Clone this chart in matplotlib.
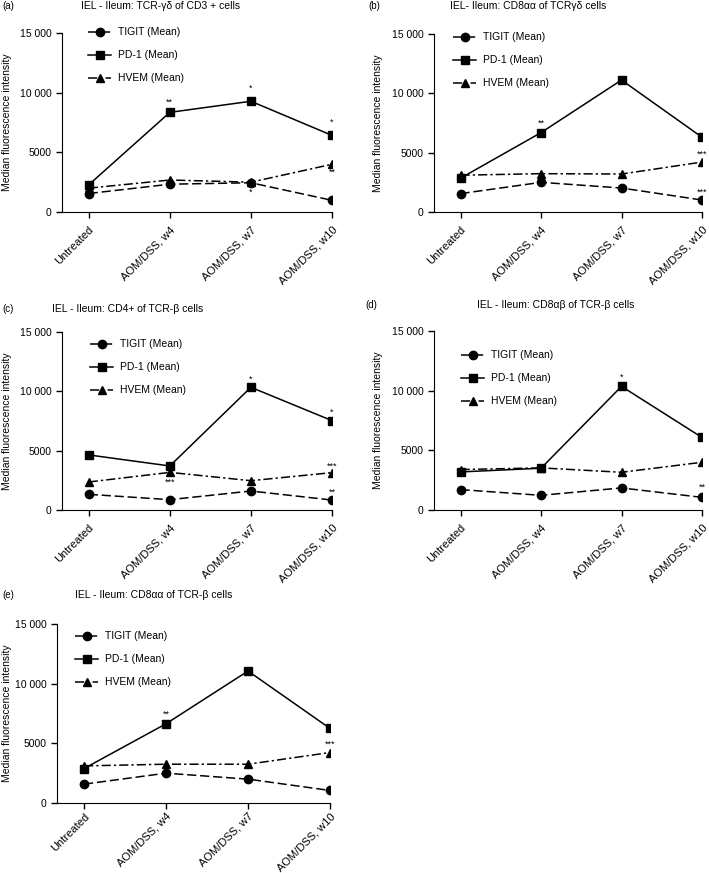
import numpy as np
import matplotlib
matplotlib.use('Agg')
import matplotlib.pyplot as plt

plt.rcParams['font.family'] = ['Liberation Sans', 'DejaVu Sans']

categories = ['Untreated', 'AOM/DSS, w4', 'AOM/DSS, w7', 'AOM/DSS, w10']
series_names = ['TIGIT (Mean)', 'PD-1 (Mean)', 'HVEM (Mean)']

# panel (a)
tigit_a = [1550, 2330, 2450, 980]
pd1_a = [2280, 8350, 9280, 6420]
hvem_a = [2000, 2680, 2500, 4000]
stars_a = [(1, 9240, '**'), (2, 10390, '*'), (3, 7500, '*'), (3, 3300, '**'), (2, 1620, '*')]
# panel (b)
tigit_b = [1550, 2500, 2020, 1010]
pd1_b = [2850, 6690, 11120, 6300]
hvem_b = [3100, 3230, 3200, 4210]
stars_b = [(1, 7480, '**'), (3, 4890, '***'), (3, 1630, '***')]
# panel (c)
tigit_c = [1320, 870, 1600, 840]
pd1_c = [4640, 3710, 10340, 7530]
hvem_c = [2360, 3170, 2470, 3150]
stars_c = [(2, 11000, '*'), (3, 8260, '*'), (1, 2300, '***'), (3, 3710, '***'), (3, 1460, '**')]
# panel (d)
tigit_d = [1710, 1230, 1850, 1060]
pd1_d = [3190, 3500, 10360, 6080]
hvem_d = [3390, 3530, 3160, 4000]
stars_d = [(2, 11120, '*'), (3, 1880, '**')]
# panel (e)
tigit_e = [1580, 2500, 2000, 1050]
pd1_e = [2890, 6640, 11060, 6250]
hvem_e = [3110, 3250, 3250, 4230]
stars_e = [(1, 7420, '**'), (3, 4950, '***')]

titles = ['IEL - Ileum: TCR-\u03b3\u03b4 of CD3 + cells',
          'IEL- Ileum: CD8\u03b1\u03b1 of TCR\u03b3\u03b4 cells',
          'IEL - Ileum: CD4+ of TCR-\u03b2 cells',
          'IEL - Ileum: CD8\u03b1\u03b2 of TCR-\u03b2 cells',
          'IEL - Ileum: CD8\u03b1\u03b1 of TCR-\u03b2 cells']
letters = ['(a)', '(b)', '(c)', '(d)', '(e)']

W, H = 709, 873
fig = plt.figure(figsize=(W / 100, H / 100), dpi=100)

def px(x, y):
    return x / W, 1 - y / H

# axes boxes in pixels: left, right, top, bottom
boxes = [(62, 332, 33, 212), (434, 702, 34, 212), (62, 332, 332, 510),
         (434, 702, 331, 510), (57, 330, 624, 803)]
letter_pos = [(2, 6), (368, 6), (2, 309), (365, 305), (2, 595)]
title_pos = [(81, 6), (450, 6), (52, 309), (477, 305), (75, 595)]
legend_pos = [(83, 22), (448, 27), (85, 334), (456, 345), (70, 626)]
ylabel_x = [12, 383, 12, 383, 12]
xpad = [5, 5, 5, 5, 2]

data = [(tigit_a, pd1_a, hvem_a, stars_a), (tigit_b, pd1_b, hvem_b, stars_b),
        (tigit_c, pd1_c, hvem_c, stars_c), (tigit_d, pd1_d, hvem_d, stars_d),
        (tigit_e, pd1_e, hvem_e, stars_e)]

x = np.arange(len(categories))
for i, (tigit, pd1, hvem, stars) in enumerate(data):
    l, r, t, b = boxes[i]
    ax = fig.add_axes([l / W, 1 - b / H, (r - l) / W, (b - t) / H])
    ax.plot(x, tigit, color='black', lw=1.1, ls=(0, (6, 2.5)), marker='o', ms=6, label=series_names[0])
    ax.plot(x, pd1, color='black', lw=1.1, ls='-', marker='s', ms=6, label=series_names[1])
    ax.plot(x, hvem, color='black', lw=1.1, ls=(0, (6, 2, 1.5, 2)), marker='^', ms=6, label=series_names[2])
    for xi, yv, s in stars:
        ax.text(xi, yv, s, ha='center', va='center', fontsize=6.5)
    ax.set_xlim(-0.33, 3)
    ax.set_ylim(0, 15000)
    ax.set_yticks([0, 5000, 10000, 15000])
    ax.set_yticklabels(['0', '5000', '10 000', '15 000'], fontsize=7.5)
    ax.set_xticks(x)
    ax.set_xticklabels(categories, rotation=45, ha='right', rotation_mode='anchor', fontsize=8)
    ax.spines['top'].set_visible(False)
    ax.spines['right'].set_visible(False)
    ax.tick_params(direction='out', length=4, width=1)
    ax.tick_params(axis='x', pad=xpad[i])
    ax.set_ylabel('Median fluorescence intensity', fontsize=7.5)
    ax.yaxis.set_label_coords(ylabel_x[i] / W, 1 - (t + b) / 2 / H, transform=fig.transFigure)
    ax.patch.set_alpha(0)
    lx, ly = legend_pos[i]
    ax.legend(loc='upper left', bbox_to_anchor=px(lx, ly), bbox_transform=fig.transFigure,
              frameon=False, fontsize=7.5, borderpad=0, labelspacing=1.25,
              handlelength=2.2, handletextpad=0.7)
    fig.text(*px(*letter_pos[i]), letters[i], fontsize=7, va='center', ha='left')
    fig.text(*px(*title_pos[i]), titles[i], fontsize=7.5, va='center', ha='left')

fig.savefig('out.png', dpi=100)
